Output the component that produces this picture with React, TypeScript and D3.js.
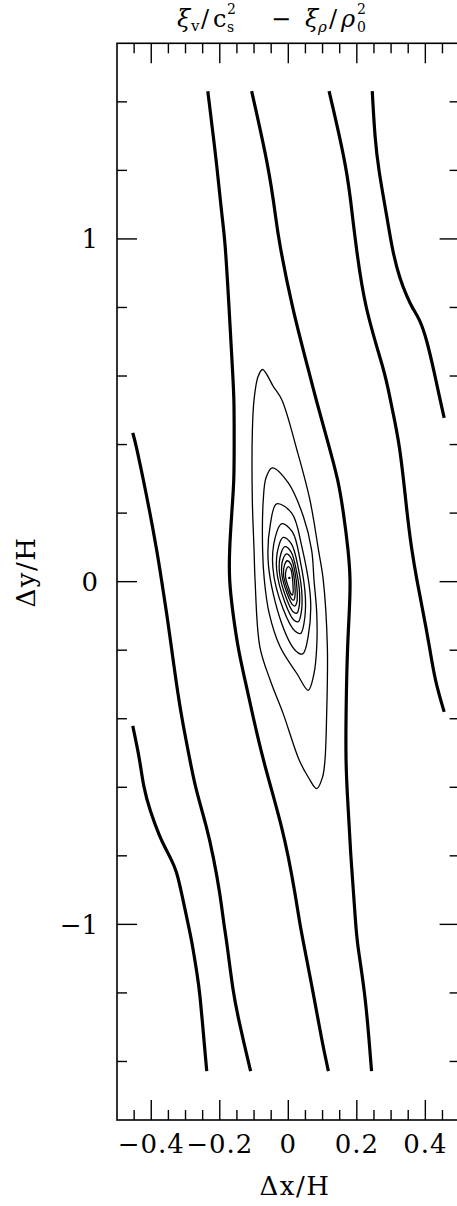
import React from "react";
import * as d3 from "d3";

// ---------- DATA (data units: Δx/H, Δy/H) ----------
const thickA: [number, number][] = [
  [-0.235, 1.431], [-0.207, 1.204], [-0.193, 1.058], [-0.185, 1.003], [-0.173, 0.803],
  [-0.162, 0.602], [-0.158, 0.531], [-0.158, 0.403], [-0.158, 0.296], [-0.165, 0.202],
  [-0.172, 0.093], [-0.173, 0.005], [-0.162, -0.092], [-0.146, -0.2], [-0.126, -0.288],
  [-0.102, -0.399], [-0.073, -0.521], [-0.051, -0.599], [-0.019, -0.716], [0, -0.801],
  [0.02, -0.91], [0.034, -1.0], [0.043, -1.047], [0.073, -1.201], [0.098, -1.34], [0.117, -1.428],
];
const thickB: [number, number][] = [
  [-0.107, 1.431], [-0.056, 1.204], [-0.036, 1.058], [-0.029, 1.003], [0.01, 0.802],
  [0.063, 0.602], [0.081, 0.531], [0.117, 0.402], [0.146, 0.296], [0.161, 0.202],
  [0.175, 0.093], [0.182, 0.005], [0.178, -0.092], [0.172, -0.2], [0.168, -0.399],
  [0.168, -0.521], [0.171, -0.599], [0.182, -0.801], [0.197, -1.0], [0.2, -1.047],
  [0.224, -1.201], [0.236, -1.34], [0.243, -1.428],
];
const thickC: [number, number][] = [
  [0.119, 1.431], [0.172, 1.204], [0.188, 1.058], [0.195, 1.003], [0.221, 0.802],
  [0.285, 0.602], [0.297, 0.531], [0.326, 0.402], [0.346, 0.202], [0.36, 0.093],
  [0.375, 0.005], [0.394, -0.091], [0.414, -0.2], [0.428, -0.288], [0.455, -0.38],
];
const thickD: [number, number][] = [
  [0.245, 1.431], [0.253, 1.291], [0.263, 1.204], [0.289, 1.058], [0.305, 0.96],
  [0.326, 0.882], [0.346, 0.833], [0.36, 0.802], [0.384, 0.765], [0.404, 0.707],
  [0.428, 0.602], [0.443, 0.531], [0.455, 0.478],
];
const thickE: [number, number][] = [
  [-0.454, 0.434], [-0.445, 0.402], [-0.423, 0.297], [-0.404, 0.202], [-0.384, 0.093],
  [-0.37, 0.005], [-0.355, -0.092], [-0.34, -0.2], [-0.328, -0.288], [-0.311, -0.399],
  [-0.287, -0.521], [-0.272, -0.599], [-0.238, -0.716], [-0.219, -0.801], [-0.199, -0.911],
  [-0.188, -1.001], [-0.18, -1.047], [-0.161, -1.201], [-0.146, -1.272], [-0.131, -1.34],
  [-0.11, -1.428],
];
const thickF: [number, number][] = [
  [-0.454, -0.421], [-0.433, -0.521], [-0.423, -0.599], [-0.404, -0.668], [-0.375, -0.746],
  [-0.355, -0.785], [-0.345, -0.804], [-0.326, -0.843], [-0.311, -0.911], [-0.292, -1.001],
  [-0.282, -1.047], [-0.266, -1.145], [-0.258, -1.201], [-0.246, -1.34], [-0.238, -1.428],
];
const thickCurves = [thickA, thickB, thickC, thickD, thickE, thickF];

// closed thin contours (clockwise from top)
const thin1: [number, number][] = [
  [-0.075, 0.619], [-0.044, 0.57], [-0.019, 0.531], [0.025, 0.385], [0.063, 0.239],
  [0.088, 0.093], [0.102, 0.005], [0.114, -0.19], [0.112, -0.385], [0.107, -0.521],
  [0.1, -0.57], [0.083, -0.604], [0.058, -0.57], [0.032, -0.521], [-0.015, -0.385],
  [-0.053, -0.287], [-0.083, -0.19], [-0.097, 0.005], [-0.1, 0.093], [-0.105, 0.239],
  [-0.105, 0.435], [-0.1, 0.531], [-0.088, 0.599],
];
const thin2: [number, number][] = [
  [-0.047, 0.332], [0, 0.288], [0.044, 0.19], [0.068, 0.093], [0.075, 0.005],
  [0.083, -0.092], [0.083, -0.19], [0.075, -0.268], [0.058, -0.317], [0.025, -0.268],
  [-0.024, -0.19], [-0.056, -0.092], [-0.07, 0.005], [-0.075, 0.093], [-0.073, 0.239],
  [-0.065, 0.303],
];
const thin3: [number, number][] = [
  [-0.034, 0.227], [0.01, 0.2], [0.04, 0.1], [0.065, -0.054], [0.058, -0.16], [0.042, -0.211],
  [0.02, -0.2], [-0.02, -0.12], [-0.058, 0.049], [-0.052, 0.17],
];
const thin4: [number, number][] = [
  [-0.019, 0.169], [0.012, 0.145], [0.035, 0.06], [0.05, -0.048], [0.046, -0.12], [0.036, -0.151],
  [0.02, -0.145], [-0.015, -0.08], [-0.045, 0.04], [-0.038, 0.13],
];
const thin5: [number, number][] = [
  [-0.015, 0.129], [0.009, 0.11], [0.029, 0.04], [0.04, -0.042], [0.037, -0.095], [0.029, -0.117],
  [0.016, -0.112], [-0.01, -0.06], [-0.034, 0.034], [-0.029, 0.1],
];
const thin6: [number, number][] = [
  [-0.01, 0.102], [0.008, 0.087], [0.024, 0.03], [0.033, -0.036], [0.031, -0.076], [0.025, -0.092],
  [0.014, -0.088], [-0.006, -0.048], [-0.026, 0.028], [-0.022, 0.08],
];
const thin7: [number, number][] = [
  [-0.005, 0.081], [0.008, 0.069], [0.02, 0.025], [0.026, -0.03], [0.025, -0.06], [0.02, -0.071],
  [0.012, -0.067], [-0.003, -0.036], [-0.019, 0.023], [-0.016, 0.064],
];
const thin8: [number, number][] = [
  [-0.003, 0.061], [0.007, 0.052], [0.016, 0.018], [0.02, -0.024], [0.019, -0.046], [0.016, -0.054],
  [0.01, -0.051], [-0.001, -0.027], [-0.014, 0.02], [-0.011, 0.049],
];
const thin9: [number, number][] = [
  [0, 0.044], [0.007, 0.037], [0.012, 0.012], [0.014, -0.018], [0.014, -0.033], [0.012, -0.039],
  [0.008, -0.036], [0.001, -0.018], [-0.008, 0.014], [-0.006, 0.035],
];
const thinContours = [thin1, thin2, thin3, thin4, thin5, thin6, thin7, thin8, thin9];
const centerDot: [number, number] = [0.003, 0.011];

const xMajorTicks = [-0.4, -0.2, 0, 0.2, 0.4];
const xMajorLabels = ["\u22120.4", "\u22120.2", "0", "0.2", "0.4"];
const xMinorTicks = [-0.45, -0.35, -0.3, -0.25, -0.15, -0.1, -0.05, 0.05, 0.1, 0.15, 0.25, 0.3, 0.35, 0.45];
const yMajorTicks = [-1, 0, 1];
const yMajorLabels = ["\u22121", "0", "1"];
const yMinorTicks = [-1.4, -1.2, -0.8, -0.6, -0.4, -0.2, 0.2, 0.4, 0.6, 0.8, 1.2, 1.4];

const xDomain: [number, number] = [-0.5, 0.5];
const yDomain: [number, number] = [-Math.PI / 2, Math.PI / 2];

// ---------- LAYOUT ----------
const W = 457;
const H = 1206;
const left = 117;
const top = 43.3;
const plotW = 342.6;
const plotH = 1076.7;

export default function App() {
  const x = d3.scaleLinear().domain(xDomain).range([left, left + plotW]);
  const y = d3.scaleLinear().domain(yDomain).range([top + plotH, top]);
  const lineOpen = d3
    .line<[number, number]>()
    .x((d) => x(d[0]))
    .y((d) => y(d[1]))
    .curve(d3.curveBasis);
  const lineClosed = d3
    .line<[number, number]>()
    .x((d) => x(d[0]))
    .y((d) => y(d[1]))
    .curve(d3.curveCatmullRomClosed.alpha(0.5));

  const font = "'DejaVu Serif', serif";
  const bottom = top + plotH;
  const right = left + plotW;
  const majLen = 20;
  const minLen = 10;
  const tickStroke = 1.4;

  return (
    <svg
      width={W}
      height={H}
      style={{ position: "absolute", left: 0, top: 0, background: "#fff" }}
    >
      <rect x={0} y={0} width={W} height={H} fill="#fff" />
      {/* frame */}
      <rect x={left} y={top} width={plotW} height={plotH} fill="none" stroke="#000" strokeWidth={1.6} />
      {/* x ticks top & bottom */}
      {xMajorTicks.map((t) => (
        <g key={"xm" + t}>
          <line x1={x(t)} x2={x(t)} y1={top} y2={top + majLen} stroke="#000" strokeWidth={tickStroke} />
          <line x1={x(t)} x2={x(t)} y1={bottom} y2={bottom - majLen} stroke="#000" strokeWidth={tickStroke} />
        </g>
      ))}
      {xMinorTicks.map((t) => (
        <g key={"xn" + t}>
          <line x1={x(t)} x2={x(t)} y1={top} y2={top + minLen} stroke="#000" strokeWidth={tickStroke} />
          <line x1={x(t)} x2={x(t)} y1={bottom} y2={bottom - minLen} stroke="#000" strokeWidth={tickStroke} />
        </g>
      ))}
      {yMajorTicks.map((t) => (
        <g key={"ym" + t}>
          <line x1={left} x2={left + majLen} y1={y(t)} y2={y(t)} stroke="#000" strokeWidth={tickStroke} />
          <line x1={right} x2={right - majLen} y1={y(t)} y2={y(t)} stroke="#000" strokeWidth={tickStroke} />
        </g>
      ))}
      {yMinorTicks.map((t) => (
        <g key={"yn" + t}>
          <line x1={left} x2={left + minLen} y1={y(t)} y2={y(t)} stroke="#000" strokeWidth={tickStroke} />
          <line x1={right} x2={right - minLen} y1={y(t)} y2={y(t)} stroke="#000" strokeWidth={tickStroke} />
        </g>
      ))}
      {/* tick labels */}
      {xMajorTicks.map((t, i) => (
        <text key={"xl" + t} x={x(t)} y={1153} textAnchor="middle" fontFamily={font} fontSize={26} letterSpacing={1} fill="#000">
          {xMajorLabels[i]}
        </text>
      ))}
      {yMajorTicks.map((t, i) => (
        <text key={"yl" + t} x={98} y={y(t)} dy="0.36em" textAnchor="end" fontFamily={font} fontSize={26} fill="#000">
          {yMajorLabels[i]}
        </text>
      ))}
      {/* axis titles */}
      <text x={295} y={1195} textAnchor="middle" fontFamily={font} fontSize={26} letterSpacing={1.5} fill="#000">
        Δx/H
      </text>
      <text
        transform={`translate(35, 572) rotate(-90)`}
        textAnchor="middle"
        fontFamily={font}
        fontSize={26}
        letterSpacing={1.5}
        fill="#000"
      >
        Δy/H
      </text>
      {/* title */}
      <text fontFamily={font} fill="#000" fontSize={24}>
        <tspan x={177} y={27} fontStyle="italic">ξ</tspan>
        <tspan x={191} y={31} fontSize={15}>v</tspan>
        <tspan x={201} y={27}>/</tspan>
        <tspan x={213} y={27}>c</tspan>
        <tspan x={271} y={27}>−</tspan>
        <tspan x={305} y={27} fontStyle="italic">ξ</tspan>
        <tspan x={318} y={32} fontSize={15} fontStyle="italic">ρ</tspan>
        <tspan x={329} y={27}>/</tspan>
        <tspan x={341} y={27} fontStyle="italic">ρ</tspan>
      </text>
      <text fontFamily={font} fill="#000" fontSize={14}>
        <tspan x={227} y={14}>2</tspan>
        <tspan x={357} y={14}>2</tspan>
      </text>
      <text fontFamily={font} fill="#000" fontSize={14}>
        <tspan x={227} y={31.5}>s</tspan>
        <tspan x={357} y={31.5}>0</tspan>
      </text>
      {/* contours */}
      <g fill="none" stroke="#000" strokeLinejoin="round">
        {thickCurves.map((c, i) => (
          <path key={"tk" + i} d={lineOpen(c) || ""} strokeWidth={3.2} />
        ))}
        {thinContours.map((c, i) => (
          <path key={"tn" + i} d={lineClosed(c) || ""} strokeWidth={1.3} />
        ))}
      </g>
      <circle cx={x(centerDot[0])} cy={y(centerDot[1])} r={1.2} fill="#000" />
    </svg>
  );
}
